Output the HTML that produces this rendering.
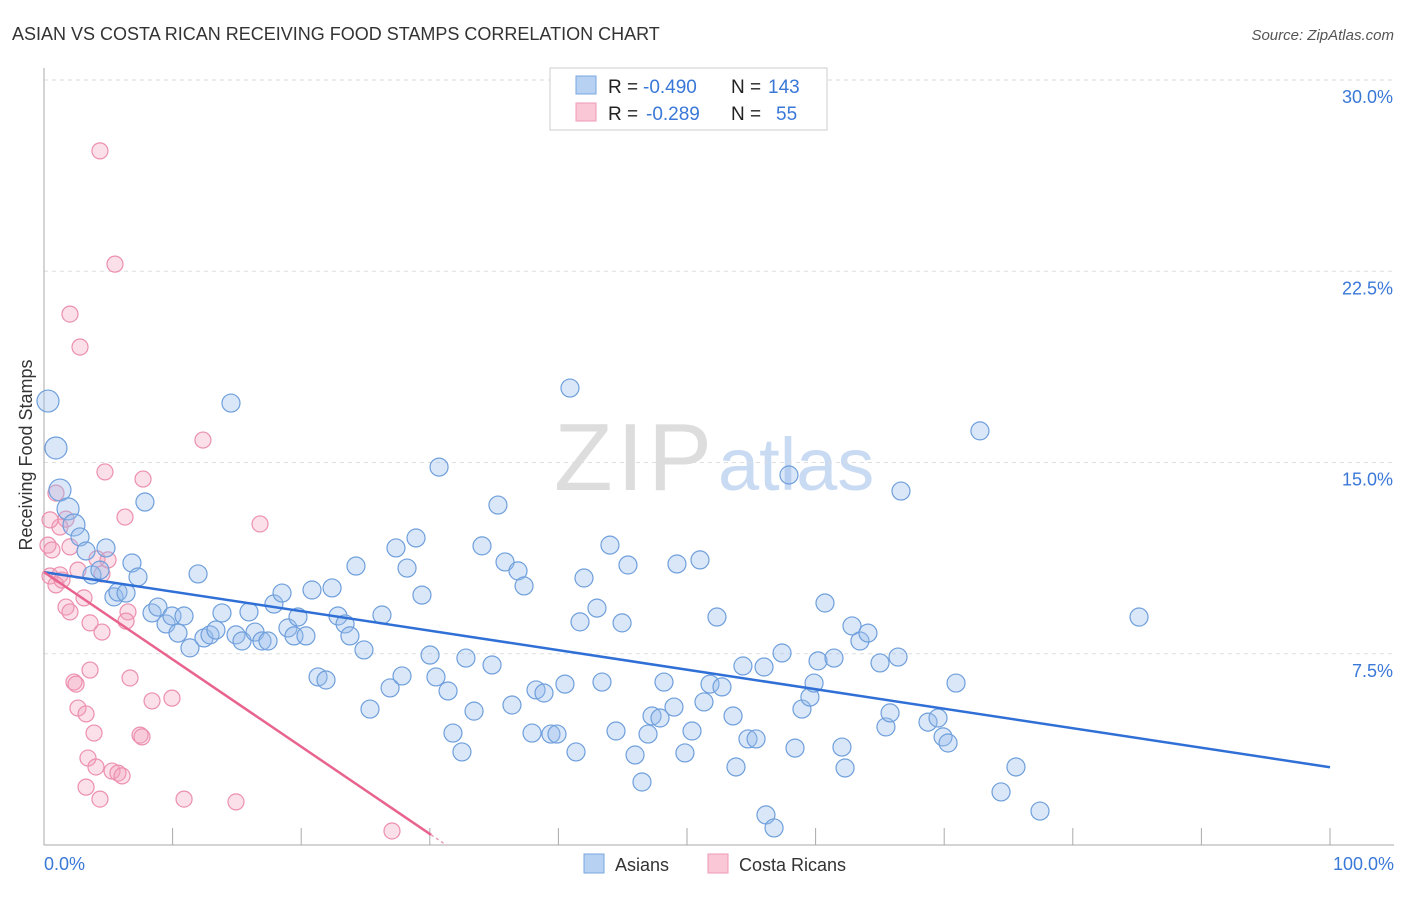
<!DOCTYPE html>
<html><head><meta charset="utf-8">
<style>
body{margin:0;background:#fff;font-family:"Liberation Sans",sans-serif;}
svg text{font-family:"Liberation Sans",sans-serif;}
</style></head>
<body>
<svg id="chart" width="1406" height="892" xmlns="http://www.w3.org/2000/svg">
<text x="12" y="40" font-size="18" fill="#333">ASIAN VS COSTA RICAN RECEIVING FOOD STAMPS CORRELATION CHART</text>
<text x="1394" y="40" font-size="15" fill="#555" font-style="italic" text-anchor="end">Source: ZipAtlas.com</text>
<text x="712" y="490" font-size="96" fill="#ddd" font-family="Liberation Serif" text-anchor="end" textLength="158">ZIP</text>
<text x="718" y="490" font-size="74" fill="#c9daf3">atlas</text>
<g id="grid"></g>
<g id="axes"></g>
<g id="marks"></g>
<text transform="translate(32,455) rotate(-90)" font-size="18" fill="#333" text-anchor="middle">Receiving Food Stamps</text>
<text x="44" y="870" font-size="18" fill="#3a78d8">0.0%</text>
<text x="1394" y="870" font-size="18" fill="#3a78d8" text-anchor="end">100.0%</text>
<g>
<rect x="550" y="68" width="277" height="62" fill="#fff" stroke="#ccc"/>
<rect x="576" y="76" width="20" height="18" fill="#b7d1f3" stroke="#7aa7e2"/>
<rect x="576" y="103" width="20" height="18" fill="#f9c7d6" stroke="#ef9ab4"/>
<text x="608" y="93" font-size="19" fill="#222">R =</text>
<text x="643" y="93" font-size="19" fill="#3a78d8">-0.490</text>
<text x="731" y="93" font-size="19" fill="#222">N =</text>
<text x="768" y="93" font-size="19" fill="#3a78d8">143</text>
<text x="608" y="120" font-size="19" fill="#222">R =</text>
<text x="646" y="120" font-size="19" fill="#3a78d8">-0.289</text>
<text x="731" y="120" font-size="19" fill="#222">N =</text>
<text x="776" y="120" font-size="19" fill="#3a78d8">55</text>
</g>
<g>
<rect x="584" y="854" width="20" height="19" fill="#b7d1f3" stroke="#7aa7e2"/>
<text x="615" y="871" font-size="18" fill="#333">Asians</text>
<rect x="708" y="854" width="20" height="19" fill="#f9c7d6" stroke="#ef9ab4"/>
<text x="739" y="871" font-size="18" fill="#333">Costa Ricans</text>
</g>
</svg>
<script>
const yTicks=[7.5,15,22.5,30];
const xTicks=[0,10,20,30,40,50,60,70,80,90,100];
const asianPx=[[48,401],[56,448],[60,490],[68,509],[74,525],[80,537],[86,551],[92,575],[100,570],[106,548],[114,597],[118,592],[126,593],[132,563],[138,577],[145,502],[152,613],[158,607],[166,624],[172,616],[178,633],[184,616],[190,648],[198,574],[204,638],[210,635],[216,630],[222,613],[231,403],[236,635],[242,641],[249,612],[255,632],[262,641],[268,641],[274,604],[282,593],[288,628],[294,636],[298,617],[306,636],[312,590],[318,677],[326,680],[332,588],[338,616],[345,624],[350,636],[356,566],[364,650],[370,709],[382,615],[390,688],[396,548],[402,676],[407,568],[416,538],[422,595],[430,655],[436,677],[439,467],[448,691],[453,733],[462,752],[466,658],[474,711],[482,546],[492,665],[498,505],[505,562],[512,705],[518,571],[524,586],[532,733],[536,690],[544,693],[551,734],[557,734],[565,684],[576,752],[584,578],[580,622],[597,608],[602,682],[610,545],[616,731],[622,623],[628,565],[635,755],[642,782],[648,734],[652,716],[660,718],[664,682],[674,707],[677,564],[685,753],[692,731],[700,560],[704,702],[710,684],[717,617],[722,687],[733,716],[736,767],[743,666],[748,739],[756,739],[764,667],[766,815],[774,828],[782,653],[789,475],[795,748],[802,709],[810,697],[814,683],[818,661],[825,603],[834,658],[842,747],[845,768],[852,626],[860,641],[868,633],[880,663],[886,727],[890,713],[898,657],[901,491],[928,722],[938,718],[943,737],[948,743],[956,683],[980,431],[1001,792],[1016,767],[1040,811],[1139,617],[570,388]];
const costaPx=[[100,151],[115,264],[70,314],[80,347],[203,440],[105,472],[143,479],[56,493],[66,519],[125,517],[60,527],[260,524],[48,545],[52,550],[70,547],[97,559],[108,560],[50,576],[60,575],[56,585],[78,570],[102,574],[84,598],[66,607],[70,612],[128,612],[126,621],[90,623],[102,632],[90,670],[130,678],[74,682],[76,684],[172,698],[152,701],[78,708],[86,714],[140,735],[142,737],[94,733],[88,758],[96,767],[112,771],[118,773],[122,776],[86,787],[100,799],[184,799],[236,802],[392,831],[50,520],[62,580]];
const asianX=asianPx.map(p=>+((p[0]-44)/12.86).toFixed(2));
const asianY=asianPx.map(p=>+((845-p[1])/25.5).toFixed(2));
const costaX=costaPx.map(p=>+((p[0]-44)/12.86).toFixed(2));
const costaY=costaPx.map(p=>+((845-p[1])/25.5).toFixed(2));
const asianBig=[0,1,2,3,4];
const asianTrend=[10.7,3.05];
const costaTrend=[10.7,0.4];
const costaTrendEndX=30.1;

const X0=44,X1=1330,Y0=845,Y30=80;
const sx=v=>X0+(X1-X0)*v/100;
const sy=v=>Y0-(Y0-Y30)*v/30;
const NS="http://www.w3.org/2000/svg";
function mk(t,a,parent){const e=document.createElementNS(NS,t);for(const k in a)e.setAttribute(k,a[k]);document.getElementById(parent).appendChild(e);return e;}
yTicks.forEach(t=>{
 const l=mk('line',{x1:44,x2:1394,y1:sy(t),y2:sy(t),stroke:'#ddd','stroke-dasharray':'4,4'},'grid');
 
 
 const tx=mk('text',{x:1393,y:sy(t)+23,'font-size':18,fill:'#3a78d8','text-anchor':'end'},'grid');
 tx.textContent=t.toFixed(1)+'%';
 
 
});
const ya=mk('line',{x1:44,x2:44,y1:68,y2:845,stroke:'#aaa'},'axes');


const xa=mk('line',{x1:44,x2:1394,y1:845,y2:845,stroke:'#aaa'},'axes');


xTicks.forEach(t=>{
 const l=mk('line',{x1:sx(t),x2:sx(t),y1:828,y2:845,stroke:'#aaa'},'axes');
 
 
});
costaX.forEach((x,i)=>{
 const c=mk('circle',{cx:sx(x),cy:sy(costaY[i]),r:8,fill:'rgba(244,160,188,0.32)',stroke:'#ec8fae','stroke-width':1.2},'marks');
 
 
});
asianX.forEach((x,i)=>{
 const c=mk('circle',{cx:sx(x),cy:sy(asianY[i]),r:asianBig.includes(i)?11:9,fill:'rgba(150,188,235,0.36)',stroke:'#6f9fdc','stroke-width':1.2},'marks');
 
 
});
const bt=mk('line',{x1:sx(0),y1:sy(asianTrend[0]),x2:sx(100),y2:sy(asianTrend[1]),stroke:'#2f6fd6','stroke-width':2.5},'marks');


const slope=(costaTrend[1]-costaTrend[0])/costaTrendEndX;
const pt=mk('line',{x1:sx(0),y1:sy(costaTrend[0]),x2:sx(costaTrendEndX),y2:sy(costaTrend[1]),stroke:'#e8648e','stroke-width':2.5},'marks');


const pd=mk('line',{x1:sx(costaTrendEndX),y1:sy(costaTrend[1]),x2:sx(costaTrendEndX+1.2),y2:sy(costaTrend[1]+slope*1.2),stroke:'#e8a0b8','stroke-width':1.5,'stroke-dasharray':'3,3'},'marks');


</script>
</body></html>
